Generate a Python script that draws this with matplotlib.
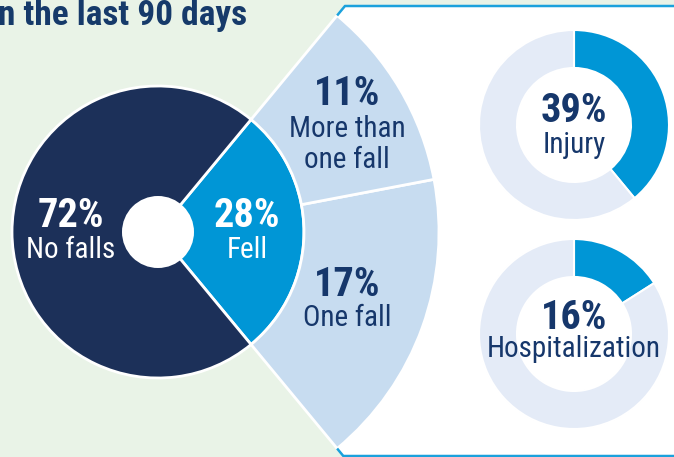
import matplotlib
matplotlib.use("Agg")
import matplotlib.pyplot as plt
from matplotlib import font_manager as fm
from matplotlib.patches import Polygon, Circle
import numpy as np

# data
main_labels = ["Fell", "No falls"]
main_values = [28, 72]
fell_labels = ["One fall", "More than\none fall"]
fell_values = [17, 11]
injury_pct = 39
hosp_pct = 16

navy = "#1c3059"
blue = "#0096d6"
light = "#c7dcf0"
ring_bg = "#e4ebf7"
green = "#e9f3e7"
text_navy = "#16376b"
border = "#1ba1dc"

# pick a condensed face if one is around
family, stretch = "DejaVu Sans", "normal"
names = {(f.name, f.stretch) for f in fm.fontManager.ttflist}
for cand in ["Liberation Sans Narrow", "Roboto Condensed", "Open Sans Condensed"]:
    if any(n == cand for n, s in names):
        family = cand
        break
else:
    for cand in ["Roboto", "Noto Sans", "Open Sans", "DejaVu Sans"]:
        if any(n == cand and s in ("condensed", "semi-condensed", 87.5, 75, 62.5) for n, s in names):
            family, stretch = cand, "condensed"
            break
plt.rcParams['font.family'] = [family, 'DejaVu Sans']
plt.rcParams['font.stretch'] = stretch

fig = plt.figure(figsize=(6.74, 4.57), dpi=100)
fig.patch.set_facecolor(green)
ax = fig.add_axes([0, 0, 1, 1])
ax.set_facecolor(green)

cx, cy = 158, 225
r_in, r_mid, r_out = 36, 146, 281
half = main_values[0] / 100 * 360 / 2
a = np.deg2rad(half)

# white panel on the right, its left side following the wedge edges
top_y, bot_y = 451, 1
tx = cx + (top_y - cy) / np.tan(a)
bx = cx + (cy - bot_y) / np.tan(a)
ax.add_patch(Polygon([(cx, cy), (tx, top_y), (690, top_y), (690, bot_y), (bx, bot_y)],
                     closed=True, facecolor="white", edgecolor="none", zorder=1))
tip_t = (cx + r_out * np.cos(a), cy + r_out * np.sin(a))
tip_b = (cx + r_out * np.cos(a), cy - r_out * np.sin(a))
ax.plot([tip_t[0], tx, 690], [tip_t[1], top_y, top_y], color=border, lw=1.8, zorder=2,
        solid_capstyle="butt")
ax.plot([tip_b[0], bx, 690], [tip_b[1], bot_y, bot_y], color=border, lw=1.8, zorder=2,
        solid_capstyle="butt")

# main pie: fell vs no falls
ax.pie(main_values, colors=[blue, navy], startangle=-half, counterclock=True,
       center=(cx, cy), radius=r_mid, frame=True,
       wedgeprops=dict(edgecolor="white", linewidth=2))
ax.add_patch(Circle((cx, cy), r_in, facecolor="white", edgecolor="none", zorder=3))

# outer sectors breaking down the fell share
ax.pie([v / 100 for v in fell_values], colors=[light, light], startangle=-half,
       counterclock=True, normalize=False, center=(cx, cy), radius=r_out, frame=True,
       wedgeprops=dict(width=r_out - r_mid, edgecolor="white", linewidth=2))

# small donuts
for pct, (dx, dy) in [(injury_pct, (574, 332)), (hosp_pct, (574, 123))]:
    ax.pie([pct, 100 - pct], colors=[blue, ring_bg], startangle=90, counterclock=False,
           center=(dx, dy), radius=95, frame=True,
           wedgeprops=dict(width=38, edgecolor="white", linewidth=1.5))

ax.set_xlim(0, 674)
ax.set_ylim(0, 457)
ax.set_aspect("auto")
ax.axis("off")

# labels: x, baseline of the number, baseline of first caption line (pixels from top)
def label(x, yb, ys, big, small, color, step=31):
    ax.text(x, 457 - yb, big, ha="center", va="baseline", fontsize=29, fontweight="bold",
            color=color, zorder=5)
    for i, line in enumerate(small.split("\n")):
        ax.text(x, 457 - ys - i * step, line, ha="center", va="baseline", fontsize=21,
                color=color, zorder=5)

label(71, 227, 258, f"{main_values[1]}%", main_labels[1], "white")
label(247, 227, 258, f"{main_values[0]}%", main_labels[0], "white")
label(347, 105, 137, f"{fell_values[1]}%", fell_labels[1], text_navy)
label(347, 296, 326, f"{fell_values[0]}%", fell_labels[0], text_navy)
label(574, 122, 153, f"{injury_pct}%", "Injury", text_navy)
label(574, 329, 357, f"{hosp_pct}%", "Hospitalization", text_navy)

ax.text(-2, 457 - 25, "n the last 90 days", ha="left", va="baseline", fontsize=25.5,
        fontweight="bold", color="#163a6a", zorder=5)

fig.savefig("out.png", dpi=100, facecolor=green)
